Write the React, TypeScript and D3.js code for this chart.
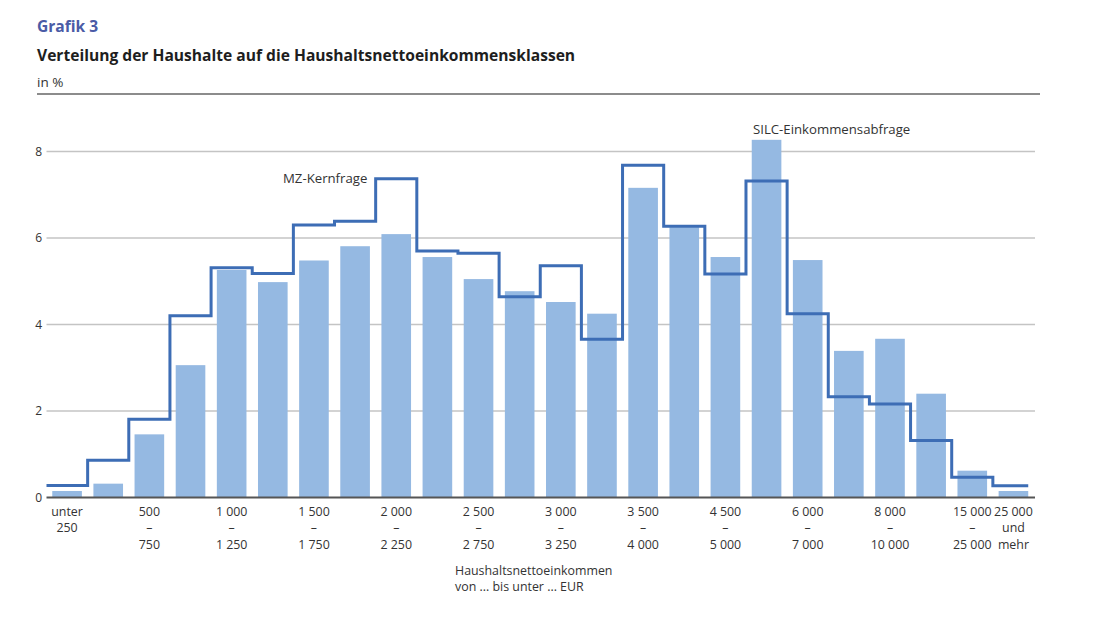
import React from "react";
import * as d3 from "d3";

const categories = [
  "u250", "250-500", "500-750", "750-1000", "1000-1250", "1250-1500", "1500-1750", "1750-2000",
  "2000-2250", "2250-2500", "2500-2750", "2750-3000", "3000-3250", "3250-3500", "3500-4000",
  "4000-4500", "4500-5000", "5000-6000", "6000-7000", "7000-8000", "8000-10000", "10000-15000",
  "15000-25000", "25000+",
];

const silcValues = [
  0.15, 0.32, 1.46, 3.06, 5.26, 4.98, 5.48, 5.81, 6.09, 5.56, 5.05, 4.77,
  4.52, 4.25, 7.16, 6.25, 5.56, 8.27, 5.49, 3.39, 3.67, 2.40, 0.62, 0.15,
];

const mzValues = [
  0.28, 0.86, 1.81, 4.2, 5.31, 5.18, 6.30, 6.39, 7.37, 5.70, 5.65, 4.64,
  5.36, 3.66, 7.68, 6.27, 5.17, 7.32, 4.25, 2.33, 2.16, 1.32, 0.47, 0.27,
];

const yTicks = [0, 2, 4, 6, 8];

// x labels: [category index, lines]
const xLabelIdx = [0, 2, 4, 6, 8, 10, 12, 14, 16, 18, 20, 22, 23];
const xLabelLines = [
  ["unter", "250"],
  ["500", "–", "750"],
  ["1 000", "–", "1 250"],
  ["1 500", "–", "1 750"],
  ["2 000", "–", "2 250"],
  ["2 500", "–", "2 750"],
  ["3 000", "–", "3 250"],
  ["3 500", "–", "4 000"],
  ["4 500", "–", "5 000"],
  ["6 000", "–", "7 000"],
  ["8 000", "–", "10 000"],
  ["15 000", "–", "25 000"],
  ["25 000", "und", "mehr"],
];

const FONT = "'Open Sans', Lato, sans-serif";

export default function App() {
  const W = 1116;
  const H = 625;
  const x = d3
    .scaleBand<string>()
    .domain(categories)
    .range([46.5, 1034])
    .paddingInner(0.28)
    .paddingOuter(0.14);
  const y = d3.scaleLinear().domain([0, 8]).range([497.5, 151.5]);

  const step = x.step();
  const stepPoints: [number, number][] = [];
  categories.forEach((c, i) => {
    const cx = (x(c) as number) + x.bandwidth() / 2;
    const last = i === categories.length - 1;
    stepPoints.push([cx - step / 2, y(mzValues[i])]);
    stepPoints.push([last ? cx + x.bandwidth() / 2 : cx + step / 2, y(mzValues[i])]);
  });
  const line = d3.line<[number, number]>().x((d) => d[0]).y((d) => d[1]);

  return (
    <svg width={W} height={H} style={{ position: "absolute", left: 0, top: 0, background: "#fff" }}>
      <text x={37} y={32} fontFamily={FONT} fontSize={15.6} fontWeight="bold" fill="#4a5ba6">
        Grafik 3
      </text>
      <text x={37} y={61} fontFamily={FONT} fontSize={15.6} fontWeight="bold" fill="#1e1e1e">
        Verteilung der Haushalte auf die Haushaltsnettoeinkommensklassen
      </text>
      <text x={37} y={87} fontFamily={FONT} fontSize={13.5} fill="#333">
        in %
      </text>
      <line x1={37} x2={1040} y1={94} y2={94} stroke="#8c8c8c" strokeWidth={2.2} />

      {yTicks.map((t) => (
        <g key={t}>
          {t > 0 && (
            <line x1={46.5} x2={1035} y1={y(t)} y2={y(t)} stroke="#c4c4c4" strokeWidth={1.6} />
          )}
          <text
            x={42}
            y={y(t)}
            dy="0.35em"
            textAnchor="end"
            fontFamily={FONT}
            fontSize={12}
            fill="#333"
          >
            {t}
          </text>
        </g>
      ))}

      {categories.map((c, i) => (
        <rect
          key={c}
          x={x(c)}
          y={y(silcValues[i])}
          width={x.bandwidth()}
          height={y(0) - y(silcValues[i])}
          fill="#95b9e2"
        />
      ))}

      <line x1={46.5} x2={1035} y1={y(0)} y2={y(0)} stroke="#555" strokeWidth={2} />

      <path d={line(stepPoints) || ""} fill="none" stroke="#3d6db5" strokeWidth={3} strokeLinejoin="miter" />

      <text x={283} y={183} fontFamily={FONT} fontSize={13.2} fill="#333">
        MZ-Kernfrage
      </text>
      <text x={753} y={134} fontFamily={FONT} fontSize={13.2} fill="#333">
        SILC-Einkommensabfrage
      </text>

      {xLabelIdx.map((idx, k) => {
        const cx = (x(categories[idx]) as number) + x.bandwidth() / 2;
        return (
          <text key={idx} textAnchor="middle" fontFamily={FONT} fontSize={12.4} fill="#333">
            {xLabelLines[k].map((l, j) => (
              <tspan key={j} x={cx} y={515.5 + j * 16.5}>
                {l}
              </tspan>
            ))}
          </text>
        );
      })}

      <text fontFamily={FONT} fontSize={12.4} fill="#333">
        <tspan x={455} y={574.5}>Haushaltsnettoeinkommen</tspan>
        <tspan x={455} y={591}>von ... bis unter ... EUR</tspan>
      </text>
    </svg>
  );
}
